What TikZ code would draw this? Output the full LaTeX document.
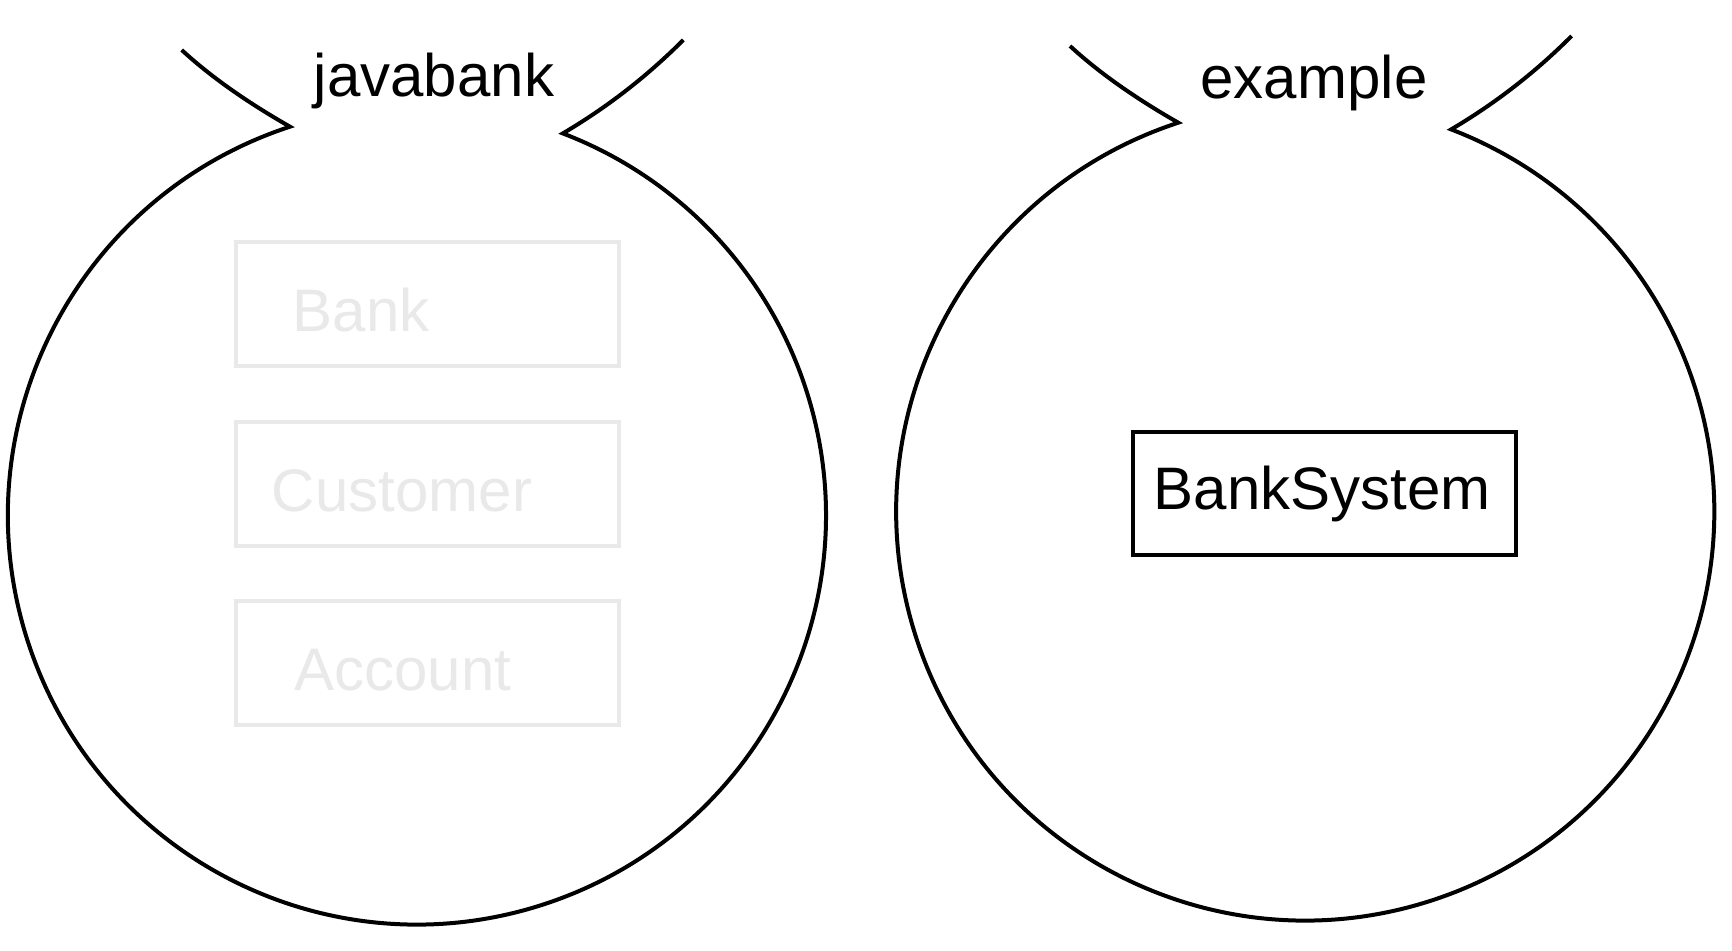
\documentclass[tikz,border=0pt]{standalone}
\usepackage{fontspec}
\setmainfont{Liberation Sans}
\definecolor{ghost}{RGB}{233,233,233}
\begin{document}
\begin{tikzpicture}[x=0.5pt,y=0.5pt,
  outline/.style={line width=2pt, line join=miter, miter limit=20},
  lbl/.style={inner sep=0pt, font=\fontsize{30}{36}\selectfont},
  gbox/.style={draw=ghost, line width=2pt, minimum width=191.5pt, minimum height=62pt, inner sep=0pt},
  gtext/.style={lbl, text=ghost, anchor=base},
  kbox/.style={draw=black, line width=2pt, minimum width=191.5pt, minimum height=61.5pt, inner sep=0pt}]
\useasboundingbox (0,0) rectangle (1732,950);
\fill[white] (0,0) rectangle (1732,950);
% package javabank
\draw[outline] (181.7,900) .. controls (209.9,874) and (246,848.4) .. (290,823.3)
  arc[start angle=108.08, end angle=429.1, radius=409]
  .. controls (605.6,841.8) and (645.6,872.3) .. (683.3,910);
% package example
\begin{scope}[shift={(888.3,4)}]
\draw[outline] (181.7,900) .. controls (209.9,874) and (246,848.4) .. (290,823.3)
  arc[start angle=108.08, end angle=429.1, radius=409]
  .. controls (605.6,841.8) and (645.6,872.3) .. (683.3,910);
\end{scope}
\node[lbl, anchor=base] (jb) at (434,853) {javabank};
\node[lbl, anchor=base] (ex) at (1314,851) {example};
% ghost classes
\node[gbox] (bankbox) at (427.5,646) {};
\node[gbox] (custbox) at (427.5,466.5) {};
\node[gbox] (accbox) at (427.5,287) {};
\node[gtext] (banktxt) at (361,618.5) {Bank};
\node[gtext] (custtxt) at (402,439) {Customer};
\node[gtext] (acctxt) at (403,259.5) {Account};
% BankSystem
\node[kbox] (bsbox) at (1324.5,456.5) {};
\node[lbl, anchor=base] (bstxt) at (1322,440.5) {BankSystem};
\end{tikzpicture}
\end{document}
